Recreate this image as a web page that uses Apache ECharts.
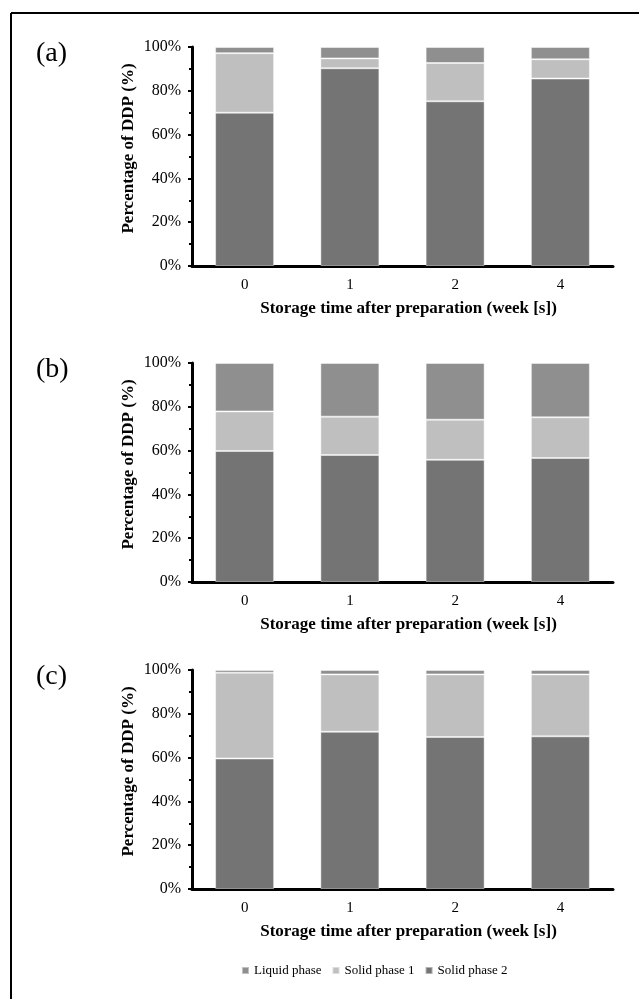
<!DOCTYPE html>
<html>
<head>
<meta charset="utf-8">
<script src="https://cdn.jsdelivr.net/npm/echarts@6/dist/echarts.min.js"></script>
<style>
html,body{margin:0;padding:0;background:#fff;}
#c{width:639px;height:999px;}
</style>
</head>
<body>
<div id="c"></div>
<script>
var categories = ['0', '1', '2', '4'];
var seriesNames = ['Liquid phase', 'Solid phase 1', 'Solid phase 2'];
var panelLabels = ['(a)', '(b)', '(c)'];
var yTicks = ['0%', '20%', '40%', '60%', '80%', '100%'];

// Panel (a)
var a_solid2 = [70.0, 90.3, 75.2, 85.6];
var a_solid1 = [27.2, 4.5, 17.5, 8.8];
var a_liquid = [2.8, 5.2, 7.3, 5.6];
// Panel (b)
var b_solid2 = [59.8, 58.0, 55.8, 56.6];
var b_solid1 = [18.1, 17.5, 18.3, 18.6];
var b_liquid = [22.1, 24.5, 25.9, 24.8];
// Panel (c)
var c_solid2 = [59.6, 71.8, 69.4, 69.7];
var c_solid1 = [39.2, 26.2, 28.6, 28.3];
var c_liquid = [1.2, 2.0, 2.0, 2.0];

var panels = [
  {s2: a_solid2, s1: a_solid1, lq: a_liquid},
  {s2: b_solid2, s1: b_solid1, lq: b_liquid},
  {s2: c_solid2, s1: c_solid1, lq: c_liquid}
];

var colors = {liquid: '#8f8f8f', solid1: '#bfbfbf', solid2: '#747474'};
var FONT = '"Liberation Serif", "Times New Roman", serif';

var gridTops = [47, 363, 670];
var gridH = 219;

var grids = [], xAxes = [], yAxes = [], series = [], graphics = [];

gridTops.forEach(function (top, i) {
  grids.push({left: 192, width: 421, top: top, height: gridH});
  xAxes.push({
    type: 'category', gridIndex: i, data: categories,
    axisLine: {lineStyle: {color: '#000', width: 3}},
    axisTick: {show: false},
    axisLabel: {color: '#000', fontFamily: FONT, fontSize: 15, margin: 12},
    name: 'Storage time after preparation (week [s])',
    nameLocation: 'middle', nameGap: 34,
    nameTextStyle: {color: '#000', fontFamily: FONT, fontSize: 17, fontWeight: 'bold', padding: [0, 0, 0, 12]}
  });
  yAxes.push({
    type: 'value', gridIndex: i, min: 0, max: 100, interval: 20,
    axisLine: {show: true, lineStyle: {color: '#000', width: 3}},
    axisTick: {show: true, length: 4, lineStyle: {color: '#000', width: 2}},
    minorTick: {show: true, splitNumber: 2, length: 3, lineStyle: {color: '#000', width: 2}},
    splitLine: {show: false},
    axisLabel: {color: '#000', fontFamily: FONT, fontSize: 16, margin: 11,
      formatter: function (v) { return yTicks[Math.round(v / 20)]; }},
    name: 'Percentage of DDP (%)',
    nameLocation: 'middle', nameGap: 55, nameMoveOverlap: false,
    nameTextStyle: {color: '#000', fontFamily: FONT, fontSize: 17, fontWeight: 'bold', padding: [0, 0, 0, 16]}
  });
  var p = panels[i];
  var common = {type: 'bar', stack: 'st' + i, xAxisIndex: i, yAxisIndex: i, barWidth: 59,
    itemStyle: {borderColor: 'rgba(255,255,255,0.45)', borderWidth: 1}};
  series.push(Object.assign({}, common, {name: 'Solid phase 2', data: p.s2, itemStyle: Object.assign({}, common.itemStyle, {color: colors.solid2})}));
  series.push(Object.assign({}, common, {name: 'Solid phase 1', data: p.s1, itemStyle: Object.assign({}, common.itemStyle, {color: colors.solid1})}));
  series.push(Object.assign({}, common, {name: 'Liquid phase', data: p.lq, itemStyle: Object.assign({}, common.itemStyle, {color: colors.liquid})}));
  graphics.push({type: 'text', left: 36, top: top - 7,
    style: {text: panelLabels[i], font: '28px ' + FONT, fill: '#000'}});
});

graphics.push({type: 'line', shape: {x1: 11, y1: 13, x2: 639, y2: 13}, style: {stroke: '#000', lineWidth: 2}});
graphics.push({type: 'line', shape: {x1: 11, y1: 13, x2: 11, y2: 999}, style: {stroke: '#000', lineWidth: 2}});

var chart = echarts.init(document.getElementById('c'), null, {renderer: 'canvas'});
chart.setOption({
  animation: false,
  backgroundColor: '#fff',
  grid: grids, xAxis: xAxes, yAxis: yAxes, series: series,
  legend: {
    data: seriesNames, top: 959, left: 236,
    itemWidth: 7, itemHeight: 7, itemGap: 10, icon: 'rect',
    textStyle: {color: '#000', fontFamily: FONT, fontSize: 13}
  },
  graphic: graphics
});
</script>
</body>
</html>
